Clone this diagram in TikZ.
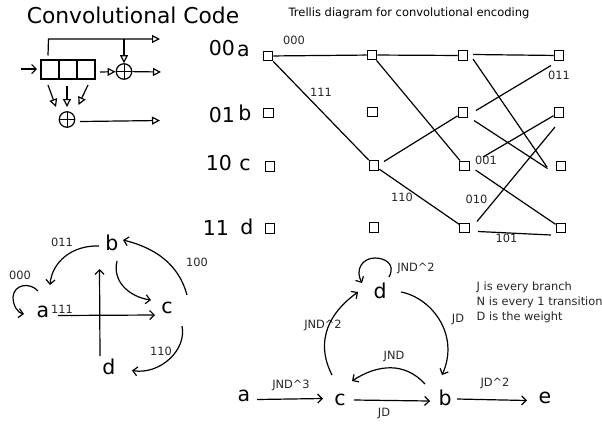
\documentclass[tikz,border=0pt]{standalone}
\usepackage{fontspec}
\setmainfont{DejaVu Sans}
\usetikzlibrary{arrows.meta}
\tikzset{
  ln/.style={line width=1.2bp,black},
  arr/.style={ln,-{Straight Barb[length=4.5bp,width=9bp]}},
  opn/.style={ln,-{Triangle[open,length=8bp,width=8bp,fill=white]}},
  big/.style={inner sep=0pt,font=\fontsize{20.5bp}{24bp}\selectfont},
  lab/.style={inner sep=0pt,font=\fontsize{11.4bp}{13bp}\selectfont,text=black!85},
  sq/.style={draw,line width=1.4bp,fill=white,minimum size=9.5bp,inner sep=0pt},
  reg/.style={draw,line width=1.2bp,minimum width=18bp,minimum height=19bp,inner sep=0pt},
  xorg/.style={draw,circle,line width=1.2bp,minimum size=15.5bp,inner sep=0pt,path picture={
    \draw[line width=1bp] (path picture bounding box.north)--(path picture bounding box.south)
      (path picture bounding box.west)--(path picture bounding box.east);}}
}
\begin{document}
\begin{tikzpicture}[x=1bp,y=-1bp]
\useasboundingbox (0,0) rectangle (602,423);
% titles
\node[inner sep=0pt,font=\fontsize{21.8bp}{24bp}\selectfont] (title) at (133,15) {Convolutional Code};
\node[inner sep=0pt,font=\fontsize{11.5bp}{13bp}\selectfont] (ttitle) at (409,13) {Trellis diagram for convolutional encoding};
% shift register
\node[reg] (r1) at (50,69.5) {};
\node[reg] (r2) at (68,69.5) {};
\node[reg] (r3) at (86,69.5) {};
\node[xorg] (x1) at (124,71.5) {};
\node[xorg] (x2) at (67,119.5) {};
\coordinate (inp) at (21,69);
\coordinate (inq) at (37,69);
\coordinate (t0) at (48,55.5);
\coordinate (t1) at (48.5,39);
\coordinate (t2) at (160,39);
\coordinate (t3) at (124,39);
\coordinate (o1) at (161,72);
\coordinate (o2) at (160,120.5);
\coordinate (o2s) at (80,121.5);
\coordinate (m1) at (100,72);
\coordinate (d1a) at (48,85);
\coordinate (d1b) at (56,107);
\coordinate (d2a) at (67,86);
\coordinate (d2b) at (67,107);
\coordinate (d3a) at (88,85);
\coordinate (d3b) at (78.5,105);
\draw[arr] (inp) -- (inq);
\draw[opn] (t0) -- (t1) -- (t2);
\draw[opn] (t3) -- (x1);
\draw[opn] (m1) -- (x1);
\draw[opn] (x1) -- (o1);
\draw[opn] (d1a) -- (d1b);
\draw[opn] (d2a) -- (d2b);
\draw[opn] (d3a) -- (d3b);
\draw[opn] (o2s) -- (o2);
% trellis labels
\node[big] (l00) at (222,48) {00};
\node[big] (la) at (243.5,51) {a};
\node[big] (l01) at (222,115) {01};
\node[big] (lb) at (245,113) {b};
\node[big] (l10) at (219,163) {10};
\node[big] (lc) at (245,165) {c};
\node[big] (l11) at (216,228) {11};
\node[big] (ld) at (247,227) {d};
% trellis nodes
\node[sq] (a1) at (268,56) {};
\node[sq] (b1) at (268.5,113) {};
\node[sq] (c1) at (270,166.5) {};
\node[sq] (d1) at (270,228.5) {};
\node[sq] (a2) at (372,55) {};
\node[sq] (b2) at (372.5,112) {};
\node[sq] (c2) at (374,165.5) {};
\node[sq] (d2) at (374,227.5) {};
\node[sq] (a3) at (463,55.5) {};
\node[sq] (b3) at (463,112.5) {};
\node[sq] (c3) at (464.5,166) {};
\node[sq] (d3) at (464.5,228) {};
\node[sq] (a4) at (559,55.5) {};
\node[sq] (b4) at (559,112.5) {};
\node[sq] (c4) at (561,166) {};
\node[sq] (d4) at (561,228) {};
\coordinate (f1) at (473,54.5);
\coordinate (f2) at (473,59);
\coordinate (f3) at (547,167);
\coordinate (f4) at (476,110.5);
\coordinate (f5) at (551,65.5);
\coordinate (f6) at (474,120.5);
\coordinate (f7) at (547.5,168.5);
\coordinate (f8) at (483,157);
\coordinate (f9) at (475.5,170);
\coordinate (f10) at (477,221.5);
\coordinate (f11) at (555,127);
\coordinate (f12) at (478,231.5);
\coordinate (f13) at (551,235);
\coordinate (f14) at (384,161.5);
\draw[ln] (a1) -- (a2);
\draw[ln] (a1) -- (c2);
\draw[ln] (a2) -- (a3);
\draw[ln] (a2) -- (c3);
\draw[ln] (f14) -- (b3);
\draw[ln] (c2) -- (d3);
\draw[ln] (f1) -- (a4);
\draw[ln] (f2) -- (f3);
\draw[ln] (f4) -- (f5);
\draw[ln] (f6) -- (f7);
\draw[ln] (f8) -- (b4);
\draw[ln] (f9) -- (d4);
\draw[ln] (f10) -- (f11);
\draw[ln] (f12) -- (f13);
\node[lab] (e1) at (294,40) {000};
\node[lab] (e2) at (321,92.5) {111};
\node[lab] (e3) at (559,75) {011};
\node[lab] (e4) at (486,160.5) {001};
\node[lab] (e5) at (476.5,199) {010};
\node[lab] (e6) at (402,197) {110};
\node[lab] (e7) at (506.5,238) {101};
% left state diagram
\node[big] (sa) at (43,312) {a};
\node[big] (sb) at (112,243) {b};
\node[big] (sc) at (167,308) {c};
\node[big] (sd) at (109,367) {d};
\coordinate (ba1) at (99,246);
\coordinate (ba2) at (50,285);
\coordinate (aa1) at (38,291);
\coordinate (aa2) at (24,314);
\coordinate (ac1) at (58,315.5);
\coordinate (ac2) at (155,315);
\coordinate (du1) at (100,356);
\coordinate (du2) at (99.5,269);
\coordinate (bc1) at (117,261);
\coordinate (bc2) at (151,300);
\coordinate (cb1) at (187,295);
\coordinate (cb2) at (123,240);
\coordinate (cd1) at (182,326);
\coordinate (cd2) at (132,370.5);
\draw[arr] (ba1) .. controls (72,245) and (52,262) .. (ba2);
\draw[arr] (aa1) .. controls (30,282) and (14,284) .. (13,297) .. controls (13,306) and (18,313) .. (aa2);
\draw[arr] (ac1) -- (ac2);
\draw[arr] (du1) -- (du2);
\draw[arr] (bc1) .. controls (112,282) and (130,297) .. (bc2);
\draw[arr] (cb1) .. controls (179,265) and (156,248) .. (cb2);
\draw[arr] (cd1) .. controls (187,350) and (160,375) .. (cd2);
\node[lab] (s1) at (62,242) {011};
\node[lab] (s2) at (20,275) {000};
\node[lab] (s3) at (62,309) {111};
\node[lab] (s4) at (197,262) {100};
\node[lab] (s5) at (161,351) {110};
% bottom graph
\node[big] (ga) at (244,396) {a};
\node[big] (gc) at (340,400) {c};
\node[big] (gb) at (445,398) {b};
\node[big] (gd) at (380,291) {d};
\node[big] (ge) at (545,398) {e};
\coordinate (ac3) at (257,399.5);
\coordinate (ac4) at (323,398.5);
\coordinate (cb3) at (354,400);
\coordinate (cb4) at (430,401);
\coordinate (be1) at (457,399);
\coordinate (be2) at (527,400.5);
\coordinate (cd3) at (332,375);
\coordinate (cd4) at (358,292);
\coordinate (db1) at (401,292);
\coordinate (db2) at (442,375);
\coordinate (bc3) at (425,384);
\coordinate (bc4) at (352,381);
\coordinate (dd1) at (389,277);
\coordinate (dd2) at (362,283);
\draw[arr] (ac3) -- (ac4);
\draw[arr] (cb3) -- (cb4);
\draw[arr] (be1) -- (be2);
\draw[arr] (cd3) .. controls (318,348) and (322,318) .. (cd4);
\draw[arr] (db1) .. controls (432,298) and (460,335) .. (db2);
\draw[arr] (bc3) .. controls (405,362) and (378,364) .. (bc4);
\draw[arr] (dd1) .. controls (396,264) and (385,258) .. (375,258) .. controls (362,258) and (355,270) .. (dd2);
\node[lab] (g1) at (416,268) {JND\textasciicircum 2};
\node[lab] (g2) at (323,325.5) {JND\textasciicircum 2};
\node[lab] (g3) at (458,319) {JD};
\node[lab] (g4) at (394,356.5) {JND};
\node[lab] (g5) at (291,385) {JND\textasciicircum 3};
\node[lab] (g6) at (384,413.5) {JD};
\node[lab] (g7) at (495,383) {JD\textasciicircum 2};
\node[lab,anchor=west] (n1) at (476.5,287.5) {J is every branch};
\node[lab,anchor=west] (n2) at (476.5,302.5) {N is every 1 transition};
\node[lab,anchor=west] (n3) at (476.5,317.5) {D is the weight};
\end{tikzpicture}
\end{document}
